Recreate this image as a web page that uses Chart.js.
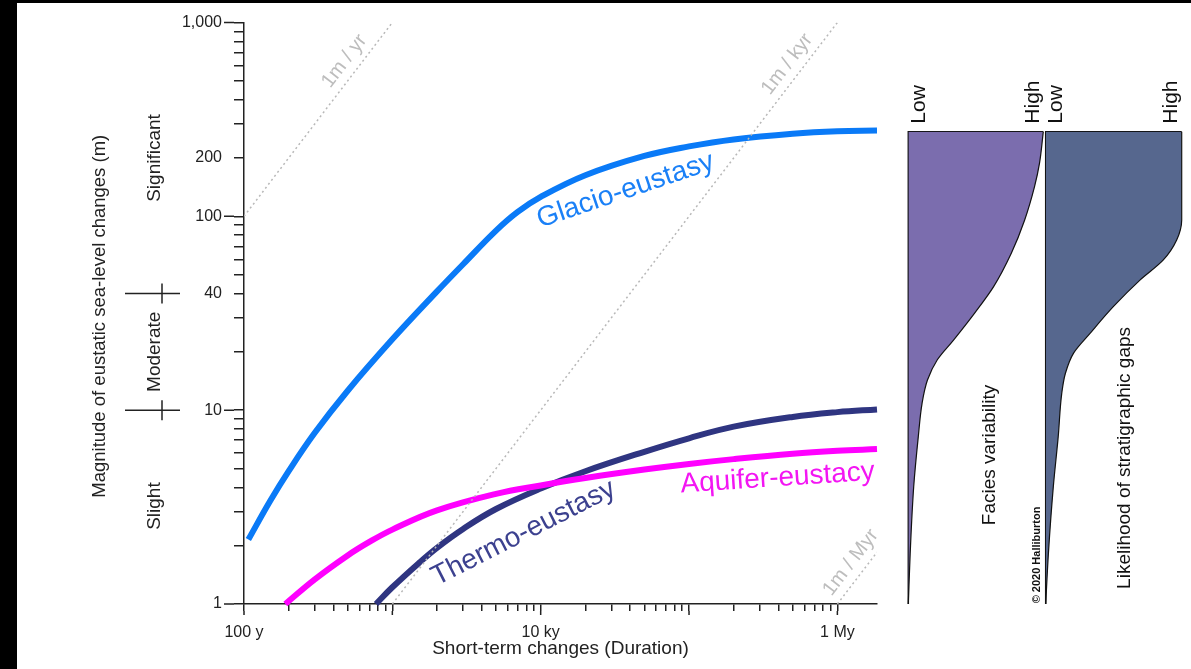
<!DOCTYPE html>
<html>
<head>
<meta charset="utf-8">
<script src="https://cdn.jsdelivr.net/npm/chart.js@4.4.1/dist/chart.umd.min.js"></script>
<style>
  html, body { margin: 0; padding: 0; }
  body { width: 1191px; height: 669px; background: #000; position: relative; overflow: hidden; }
  #sheet { position: absolute; left: 17px; top: 3px; right: 0; bottom: 0; background: #fff; }
  .layer { position: absolute; left: 0; top: 0; width: 1191px; height: 669px; }
</style>
</head>
<body>
<div id="sheet"></div>
<div class="layer"><canvas id="main"></canvas></div>
<div class="layer"><canvas id="facies"></canvas></div>
<div class="layer"><canvas id="gaps"></canvas></div>
<script>
// ---------------------------------------------------------------
// Data (duration in years, magnitude in m)
// ---------------------------------------------------------------
const glacioX = [107, 150, 200, 300, 500, 1000, 2000, 3000, 5000, 7000, 10000, 20000, 50000, 100000, 200000, 500000, 1000000, 1850000];
const glacioY = [2.15, 3.4, 4.85, 7.64, 12.6, 23.2, 41.0, 56.6, 84.4, 105.4, 126, 163, 205, 229.5, 249.4, 267, 275, 277];

const thermoX = [776, 1000, 1500, 2000, 3000, 5000, 10000, 20000, 50000, 100000, 200000, 500000, 1000000, 1850000];
const thermoY = [1, 1.22, 1.62, 1.95, 2.44, 3.09, 3.94, 4.84, 6.10, 7.16, 8.22, 9.23, 9.77, 10.09];

const aquiferX = [190, 300, 500, 700, 1000, 2000, 5000, 10000, 20000, 50000, 100000, 200000, 500000, 1000000, 1850000];
const aquiferY = [1, 1.34, 1.78, 2.09, 2.42, 3.04, 3.70, 4.09, 4.47, 4.94, 5.28, 5.59, 5.96, 6.17, 6.30];

// reference rates (1 m per yr / kyr / Myr), as end points
const rateNames = ['1m / yr', '1m / kyr', '1m / Myr'];
const rateStartX = [100, 1000, 1000000];
const rateStartY = [100, 1, 1];
const rateEndX = [1000, 1000000, 1850000];
const rateEndY = [1000, 1000, 1.85];

// side panels: magnitude level -> relative value (0 = low, 1 = high)
const panelTop = 273.5;
const faciesLevels = [273.5, 188, 142.3, 95.8, 64.5, 43.4, 31.6, 23.0, 18.2, 14.3, 10.85, 7.3, 4.03, 1.83, 1];
const faciesValues = [1.0, 0.972, 0.935, 0.862, 0.763, 0.632, 0.49, 0.335, 0.215, 0.142, 0.102, 0.074, 0.04, 0.014, 0];
const gapsLevels = [273.5, 95.8, 75.5, 59.6, 46.9, 34.2, 24.9, 19.7, 15.5, 12.2, 7.3, 4.03, 1.83, 1];
const gapsValues = [1, 1, 0.963, 0.865, 0.693, 0.497, 0.326, 0.205, 0.145, 0.118, 0.092, 0.056, 0.02, 0];

// axes
const xTicks = [100, 200, 300, 400, 500, 600, 700, 800, 900,
  1000, 2000, 3000, 4000, 5000, 6000, 7000, 8000, 9000,
  10000, 20000, 30000, 40000, 50000, 60000, 70000, 80000, 90000,
  100000, 200000, 300000, 400000, 500000, 600000, 700000, 800000, 900000,
  1000000];
const xLabelValues = [100, 10000, 1000000];
const xLabelTexts = ['100 y', '10 ky', '1 My'];
const xDecades = [100, 1000, 10000, 100000, 1000000];

const yTicks = [1, 2, 3, 4, 5, 6, 7, 8, 9,
  10, 20, 30, 40, 50, 60, 70, 80, 90,
  100, 200, 300, 400, 500, 600, 700, 800, 900,
  1000];
const yLabelValues = [1, 10, 40, 100, 200, 1000];
const yLabelTexts = ['1', '10', '40', '100', '200', '1,000'];
const yDecades = [1, 10, 100, 1000];

const bandNames = ['Significant', 'Moderate', 'Slight'];
const bandCentres = [200, 20, 3.2];
const bandBreaks = [40, 10];

// ---------------------------------------------------------------
// Styles
// ---------------------------------------------------------------
const INK = '#222';
const FONT = "'Liberation Sans', Arial, Helvetica, sans-serif";
const GLACIO = '#0a7af7';
const THERMO = '#2f3581';
const AQUIFER = '#ff00ff';

const curveLabels = [
  { text: 'Glacio-eustasy', x: 38800, y: 124.4, angle: -18.7, color: '#1a80f7' },
  { text: 'Thermo-eustasy', x: 8090, y: 2.14, angle: -27, color: '#3c418f' },
  { text: 'Aquifer-eustacy', x: 399000, y: 4.06, angle: -3.8, color: '#f316f3' }
];
const rateLabelAlong = [0.755, 0.913, 0.63];

const toPoints = (xs, ys) => xs.map((v, i) => ({ x: v, y: ys[i] }));

function rotatedText(ctx, str, px, py, angle, font, color, align, baseline, dy) {
  ctx.save();
  ctx.translate(px, py);
  ctx.rotate(angle);
  ctx.font = font;
  ctx.fillStyle = color;
  ctx.textAlign = align;
  ctx.textBaseline = baseline;
  ctx.fillText(str, 0, dy || 0);
  ctx.restore();
}

// ---------------------------------------------------------------
// Main chart
// ---------------------------------------------------------------
const mainNotes = {
  id: 'mainNotes',
  afterDraw(chart) {
    const { ctx, chartArea: area, scales: { x, y } } = chart;
    ctx.save();
    ctx.strokeStyle = INK;
    ctx.lineWidth = 1.5;
    ctx.beginPath();
    // longer ticks at the decades
    yDecades.forEach(v => {
      const py = y.getPixelForValue(v);
      ctx.moveTo(area.left - 20, py);
      ctx.lineTo(area.left - 10, py);
    });
    xDecades.forEach(v => {
      const px = x.getPixelForValue(v);
      ctx.moveTo(px, area.bottom + 7);
      ctx.lineTo(px, area.bottom + 11);
    });
    // band separators
    bandBreaks.forEach(v => {
      const py = y.getPixelForValue(v);
      ctx.moveTo(area.left - 119, py);
      ctx.lineTo(area.left - 64, py);
      ctx.moveTo(area.left - 82, py - 10);
      ctx.lineTo(area.left - 82, py + 10);
    });
    ctx.stroke();
    ctx.restore();

    const up = -Math.PI / 2;
    bandNames.forEach((name, i) => {
      rotatedText(ctx, name, area.left - 89, y.getPixelForValue(bandCentres[i]), up,
        '19px ' + FONT, INK, 'center', 'middle');
    });
    rotatedText(ctx, 'Magnitude of eustatic sea-level changes (m)', area.left - 144,
      (area.top + area.bottom) / 2 + 3, up, '18.5px ' + FONT, INK, 'center', 'middle');
    rotatedText(ctx, 'Short-term changes (Duration)', (area.left + area.right) / 2,
      area.bottom + 45, 0, '19px ' + FONT, INK, 'center', 'middle');

    // rate labels along the dotted lines
    rateNames.forEach((name, i) => {
      const x1 = x.getPixelForValue(rateStartX[i]), y1 = y.getPixelForValue(rateStartY[i]);
      const x2 = x.getPixelForValue(rateEndX[i]), y2 = y.getPixelForValue(rateEndY[i]);
      const f = rateLabelAlong[i];
      const ang = Math.atan2(y2 - y1, x2 - x1);
      rotatedText(ctx, name, x1 + f * (x2 - x1), y1 + f * (y2 - y1), ang,
        '20px ' + FONT, '#bdbdbd', 'center', 'alphabetic', -9);
    });

    // curve names
    curveLabels.forEach(l => {
      rotatedText(ctx, l.text, x.getPixelForValue(l.x), y.getPixelForValue(l.y),
        l.angle * Math.PI / 180, '28px ' + FONT, l.color, 'center', 'alphabetic');
    });
  }
};

const curve = (data, color) => ({
  data, borderColor: color, borderWidth: 6, borderCapStyle: 'butt',
  tension: 0.4, pointRadius: 0, fill: false, clip: 6
});
const rateLines = rateNames.map((name, i) => ({
  data: [{ x: rateStartX[i], y: rateStartY[i] }, { x: rateEndX[i], y: rateEndY[i] }],
  borderColor: '#b8b8b8', borderWidth: 1.5, borderDash: [2, 3], pointRadius: 0, fill: false
}));

new Chart(document.getElementById('main'), {
  type: 'line',
  data: {
    datasets: [
      ...rateLines,
      curve(toPoints(aquiferX, aquiferY), AQUIFER),
      curve(toPoints(thermoX, thermoY), THERMO),
      curve(toPoints(glacioX, glacioY), GLACIO)
    ]
  },
  options: {
    responsive: true,
    maintainAspectRatio: false,
    animation: false,
    devicePixelRatio: 1,
    layout: { padding: { left: 154, right: 314, top: 22.5, bottom: 25 } },
    plugins: { legend: { display: false }, tooltip: { enabled: false } },
    scales: {
      x: {
        type: 'logarithmic', min: 100, max: 1850000,
        afterBuildTicks: s => { s.ticks = xTicks.map(v => ({ value: v })); },
        afterFit: s => { s.height = 40; },
        grid: { drawOnChartArea: false, tickLength: 7, lineWidth: 1.5, color: INK },
        border: { color: INK, width: 1.5 },
        ticks: {
          autoSkip: false, maxRotation: 0, padding: 12, color: INK,
          font: { family: FONT, size: 16 },
          callback: v => { const i = xLabelValues.indexOf(v); return i >= 0 ? xLabelTexts[i] : ''; }
        }
      },
      y: {
        type: 'logarithmic', min: 1, max: 1000,
        afterBuildTicks: s => { s.ticks = yTicks.map(v => ({ value: v })); },
        afterFit: s => { s.width = 90; },
        grid: { drawOnChartArea: false, tickLength: 10, lineWidth: 1.5, color: INK },
        border: { color: INK, width: 1.5 },
        ticks: {
          autoSkip: false, padding: 12, color: INK,
          font: { family: FONT, size: 16 },
          callback: v => { const i = yLabelValues.indexOf(v); return i >= 0 ? yLabelTexts[i] : ''; }
        }
      }
    }
  },
  plugins: [mainNotes]
});

// ---------------------------------------------------------------
// Side panels (same magnitude axis, relative value across)
// ---------------------------------------------------------------
function panel(id, levels, values, fillColor, left, right, notes) {
  const panelNotes = {
    id: 'panelNotes',
    afterDraw(chart) {
      const { ctx, scales: { x, y } } = chart;
      const up = -Math.PI / 2;
      const top = y.getPixelForValue(panelTop) - 8;
      rotatedText(ctx, 'Low', x.getPixelForValue(0), top, up, '21px ' + FONT, '#111', 'left', 'top');
      rotatedText(ctx, 'High', x.getPixelForValue(1), top, up, '21px ' + FONT, '#111', 'left', 'bottom');
      notes.forEach(n => {
        rotatedText(ctx, n.text, x.getPixelForValue(n.x), y.getPixelForValue(n.y), up,
          n.font, '#111', 'center', 'middle');
      });
    }
  };
  return new Chart(document.getElementById(id), {
    type: 'line',
    data: {
      datasets: [
        {
          data: toPoints(values, levels), borderColor: '#111', borderWidth: 1.2,
          backgroundColor: fillColor, fill: { value: 0 }, cubicInterpolationMode: 'monotone',
          pointRadius: 0, clip: false
        },
        {
          data: [{ x: 0, y: 1 }, { x: 0, y: panelTop }, { x: 1, y: panelTop }],
          borderColor: '#111', borderWidth: 1.5, pointRadius: 0, fill: false, clip: false
        }
      ]
    },
    options: {
      indexAxis: 'y',
      responsive: true,
      maintainAspectRatio: false,
      animation: false,
      devicePixelRatio: 1,
      layout: { padding: { left: left, right: 1191 - right, top: 22.5, bottom: 65 } },
      plugins: { legend: { display: false }, tooltip: { enabled: false } },
      scales: {
        x: { type: 'linear', min: 0, max: 1, display: false },
        y: { type: 'logarithmic', min: 1, max: 1000, display: false }
      }
    },
    plugins: [panelNotes]
  });
}

panel('facies', faciesLevels, faciesValues, '#7b6dae', 908.3, 1043.3, [
  { text: 'Facies variability', x: 0.6, y: 5.87, font: '19px ' + FONT },
  { text: '\u00a9 2020 Halliburton', x: 0.953, y: 1.79, font: 'bold 11px ' + FONT }
]);
panel('gaps', gapsLevels, gapsValues, '#56678e', 1045.7, 1181.7, [
  { text: 'Likelihood of stratigraphic gaps', x: 0.583, y: 5.67, font: '19px ' + FONT }
]);
</script>
</body>
</html>
